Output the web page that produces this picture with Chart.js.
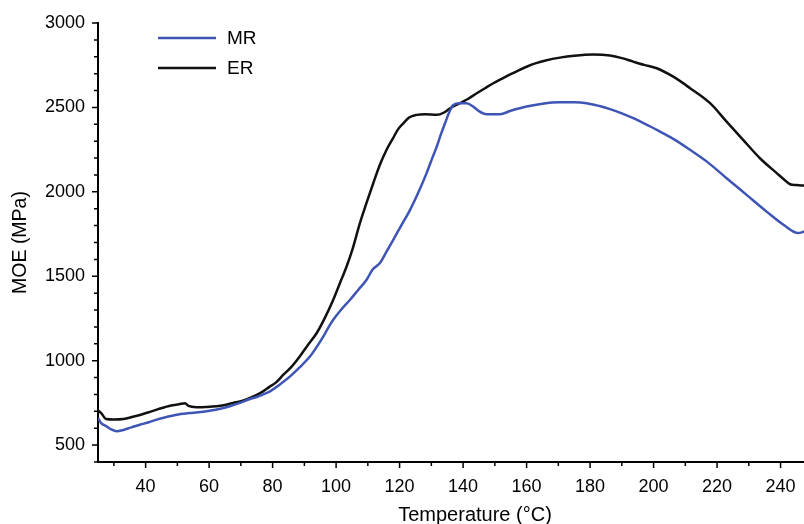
<!DOCTYPE html>
<html>
<head>
<meta charset="utf-8">
<script src="https://cdn.jsdelivr.net/npm/chart.js@4.4.1/dist/chart.umd.min.js"></script>
<style>
  html, body { margin: 0; padding: 0; background: #fff; overflow: hidden; }
  canvas { display: block; }
</style>
</head>
<body>
<canvas id="chart" width="852" height="527"></canvas>
<script>
// temperature (°C) / MOE (MPa)
const erTemp = [25, 26, 27.5, 30, 33, 36, 38.5, 41, 43.5, 46, 48, 50.5, 52.4, 53.5, 56, 59, 62.4, 65, 67.6, 70,
  72.9, 75, 77, 79, 81, 83.4, 86, 88.6, 91, 93.9, 96.5, 99.1, 101, 103.3, 105, 107.5, 109.5, 111.7, 113.8, 115.9,
  118, 119.5, 121.2, 123, 125.4, 128, 131.7, 134, 135.9, 139, 141.5, 144.3, 147, 149.5, 152, 155, 157.5, 160,
  163, 166, 170.5, 175, 181, 186.3, 190, 193.6, 197, 201, 206.2, 211.5, 217.8, 223, 228.2, 233.5, 238.8, 241,
  243, 245, 247.5];
const erMOE = [705, 690, 655, 652, 655, 668, 680, 695, 710, 724, 735, 742, 748, 732, 725, 726, 730, 738, 750, 760,
  780, 797, 818, 845, 870, 917, 965, 1026, 1090, 1164, 1255, 1361, 1450, 1558, 1650, 1815, 1930, 2051, 2160, 2249,
  2320, 2370, 2406, 2440, 2456, 2460, 2456, 2470, 2495, 2525, 2550, 2584, 2615, 2643, 2668, 2697, 2720, 2741,
  2762, 2778, 2795, 2806, 2813, 2807, 2792, 2771, 2752, 2732, 2682, 2614, 2525, 2416, 2308, 2199, 2111, 2075,
  2045, 2040, 2037];

const mrTemp = [25, 26, 27.7, 29, 30.9, 33, 35.5, 38.2, 41, 43.5, 46, 48.7, 51, 54, 56.5, 59.2, 62, 64.5, 67, 69.7,
  72.9, 75, 77, 79.2, 82, 85.5, 88.5, 91.8, 94, 96, 97.5, 99.1, 101.5, 104.4, 107, 109.6, 111.5, 113.8, 116, 118,
  120.5, 123.3, 126, 128.5, 130.5, 131.7, 133, 134.3, 135.5, 136.9, 139, 141.1, 143.2, 145, 147.4, 151.6, 155,
  160, 165, 170.5, 175, 178.9, 183, 186.3, 190, 193.6, 197, 201, 206.2, 211.5, 216.8, 223, 229.3, 235.6, 240.9,
  245.6, 247.5];
const mrMOE = [660, 630, 611, 595, 582, 590, 605, 621, 635, 651, 664, 675, 684, 690, 694, 700, 710, 720, 733, 750,
  773, 785, 800, 818, 855, 907, 960, 1026, 1085, 1144, 1195, 1243, 1300, 1361, 1420, 1479, 1540, 1578, 1650, 1716,
  1800, 1893, 2000, 2111, 2210, 2268, 2340, 2406, 2465, 2515, 2525, 2525, 2505, 2478, 2460, 2460, 2480,
  2505, 2522, 2530, 2530, 2525, 2508, 2490, 2465, 2436, 2405, 2367, 2314, 2249, 2179, 2081, 1982, 1883, 1805,
  1756, 1765];

const xTicks = [40, 60, 80, 100, 120, 140, 160, 180, 200, 220, 240];
const yTicks = [500, 1000, 1500, 2000, 2500, 3000];

const seriesNames = ['MR', 'ER'];
const seriesColors = ['#3f55b6', '#111111'];

const FONT = '"Liberation Sans", Arial, sans-serif';

function toPoints(xs, ys) {
  return xs.map((x, i) => ({ x: x, y: ys[i] }));
}

// minor + major tick marks, pointing outwards
const tickMarks = {
  id: 'tickMarks',
  afterDraw(chart) {
    const { ctx, chartArea } = chart;
    const x = chart.scales.x;
    const y = chart.scales.y;
    ctx.save();
    ctx.strokeStyle = '#000';
    ctx.lineWidth = 1.5;
    ctx.beginPath();
    for (let v = 30; v <= 260; v += 10) {
      const px = x.getPixelForValue(v);
      const len = v % 20 === 0 ? 6 : 4;
      ctx.moveTo(px, chartArea.bottom);
      ctx.lineTo(px, chartArea.bottom + len);
    }
    for (let v = 400; v <= 3000; v += 100) {
      const py = y.getPixelForValue(v);
      const len = v % 500 === 0 ? 6 : 4;
      ctx.moveTo(chartArea.left, py);
      ctx.lineTo(chartArea.left - len, py);
    }
    ctx.stroke();
    ctx.restore();
  }
};

// legend in the top-left corner of the plot
const cornerLegend = {
  id: 'cornerLegend',
  afterDraw(chart) {
    const ctx = chart.ctx;
    ctx.save();
    ctx.font = '19px ' + FONT;
    ctx.textBaseline = 'middle';
    ctx.textAlign = 'left';
    chart.data.datasets.forEach((ds, i) => {
      const yy = 38 + i * 30;
      ctx.strokeStyle = ds.borderColor;
      ctx.lineWidth = 2.5;
      ctx.beginPath();
      ctx.moveTo(158, yy);
      ctx.lineTo(216, yy);
      ctx.stroke();
      ctx.fillStyle = '#000';
      ctx.fillText(ds.label, 227, yy + 1);
    });
    ctx.restore();
  }
};

new Chart(document.getElementById('chart'), {
  type: 'line',
  data: {
    datasets: [
      {
        label: seriesNames[0],
        data: toPoints(mrTemp, mrMOE),
        borderColor: seriesColors[0],
        borderWidth: 2.5,
        pointRadius: 0,
        cubicInterpolationMode: 'monotone'
      },
      {
        label: seriesNames[1],
        data: toPoints(erTemp, erMOE),
        borderColor: seriesColors[1],
        borderWidth: 2.5,
        pointRadius: 0,
        cubicInterpolationMode: 'monotone'
      }
    ]
  },
  options: {
    responsive: false,
    animation: false,
    layout: { padding: { top: 23, left: 0, right: 0, bottom: 0 } },
    plugins: {
      legend: { display: false },
      tooltip: { enabled: false }
    },
    scales: {
      x: {
        type: 'linear',
        min: 25,
        max: 262.5,
        grid: { display: false, drawTicks: false },
        border: { color: '#000', width: 2 },
        afterBuildTicks: (scale) => {
          scale.ticks = xTicks.map(v => ({ value: v }));
        },
        afterFit: (scale) => {
          scale.height = 65;
          scale.paddingLeft = 0;
          scale.paddingRight = 0;
        },
        ticks: {
          color: '#000',
          padding: 14,
          maxRotation: 0,
          callback: (v) => String(v),
          font: { family: FONT, size: 18 }
        },
        title: {
          display: true,
          text: 'Temperature (°C)',
          color: '#000',
          padding: 0,
          font: { family: FONT, size: 20 }
        }
      },
      y: {
        min: 400,
        max: 3000,
        grid: { display: false, drawTicks: false },
        border: { color: '#000', width: 2 },
        afterBuildTicks: (scale) => {
          scale.ticks = yTicks.map(v => ({ value: v }));
        },
        afterFit: (scale) => {
          scale.width = 98;
          scale.paddingTop = 0;
          scale.paddingBottom = 0;
        },
        ticks: {
          color: '#000',
          padding: 13,
          callback: (v) => String(v),
          font: { family: FONT, size: 18 }
        },
        title: {
          display: true,
          text: 'MOE (MPa)',
          color: '#000',
          padding: { top: 9, bottom: 0 },
          font: { family: FONT, size: 19.5 }
        }
      }
    }
  },
  plugins: [tickMarks, cornerLegend]
});
</script>
</body>
</html>
